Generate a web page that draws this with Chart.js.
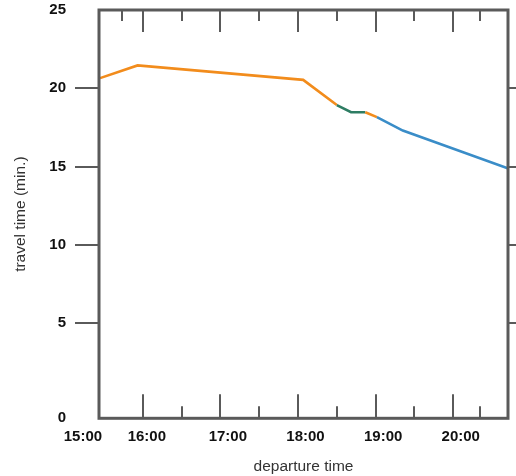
<!DOCTYPE html>
<html>
<head>
<meta charset="utf-8">
<script src="https://cdn.jsdelivr.net/npm/chart.js@4/dist/chart.umd.min.js"></script>
<style>
  html, body { margin: 0; padding: 0; background: #fff; }
  #wrap { width: 516px; height: 476px; position: relative; }
</style>
</head>
<body>
<div id="wrap"><canvas id="c"></canvas></div>
<script>
// ---- data (minutes after 15:00, travel time in minutes) ----
const departMinutes = [27, 56, 184, 210, 221, 232, 241, 261, 342];
const travelTimes   = [20.65, 21.46, 20.54, 18.93, 18.47, 18.47, 18.16, 17.30, 14.90];
// colour group of each segment (between point i and i+1)
const segmentGroups = ['a', 'a', 'a', 'b', 'b', 'a', 'c', 'c'];

// x axis
const xMin = 26.2, xMax = 342.3;
const xLabelValues = [8, 57.4, 120, 180, 240, 300];
const xLabels      = ['15:00', '16:00', '17:00', '18:00', '19:00', '20:00'];
const xMajorTicks  = [60, 120, 180, 240, 300];
const xMinorBottom = [90, 150, 210, 270, 321];
const xMinorTop    = [44, 90, 150, 210, 270, 321];

// y axis
const yMin = -1.07, yMax = 25;
const yLabelValues = [-1.07, 5, 10, 15, 20, 25];
const yLabels      = ['0', '5', '10', '15', '20', '25'];
const yTickMarks   = [5, 10, 15, 20];

const groupColors = { a: '#F28C1C', b: '#2E7D63', c: '#3A8DC8' };
const frameColor = '#5a5a5a';
const FONT = '"Liberation Sans", Arial, Helvetica, sans-serif';

const framePlugin = {
  id: 'frame',
  afterDatasetsDraw(chart) {
    const { ctx, chartArea: a, scales: { x, y } } = chart;
    ctx.save();
    ctx.strokeStyle = frameColor;
    ctx.lineCap = 'butt';
    ctx.lineWidth = 2;
    ctx.beginPath();
    xMajorTicks.forEach(v => {
      const px = Math.round(x.getPixelForValue(v));
      ctx.moveTo(px, a.bottom); ctx.lineTo(px, a.bottom - 24);
      ctx.moveTo(px, a.top); ctx.lineTo(px, a.top + 22);
    });
    xMinorBottom.forEach(v => {
      const px = Math.round(x.getPixelForValue(v));
      ctx.moveTo(px, a.bottom); ctx.lineTo(px, a.bottom - 12);
    });
    xMinorTop.forEach(v => {
      const px = Math.round(x.getPixelForValue(v));
      ctx.moveTo(px, a.top); ctx.lineTo(px, a.top + 11);
    });
    yTickMarks.forEach(v => {
      const py = Math.round(y.getPixelForValue(v));
      ctx.moveTo(a.left - 24, py); ctx.lineTo(a.left, py);
      ctx.moveTo(a.right, py); ctx.lineTo(a.right + 24, py);
    });
    ctx.stroke();
    ctx.lineWidth = 3;
    ctx.strokeRect(a.left, a.top, a.right - a.left, a.bottom - a.top);
    ctx.restore();
  }
};

new Chart(document.getElementById('c'), {
  type: 'line',
  data: {
    datasets: [{
      data: departMinutes.map((m, i) => ({ x: m, y: travelTimes[i] })),
      borderWidth: 2.6,
      pointRadius: 0,
      tension: 0,
      fill: false,
      borderColor: groupColors.a,
      segment: {
        borderColor: c => groupColors[segmentGroups[c.p0DataIndex]]
      }
    }]
  },
  options: {
    responsive: true,
    maintainAspectRatio: false,
    animation: false,
    layout: { padding: { top: 10, right: 8, left: 0, bottom: 0 } },
    plugins: { legend: { display: false }, tooltip: { enabled: false } },
    scales: {
      x: {
        type: 'linear',
        min: xMin, max: xMax,
        grid: { display: false, drawTicks: false },
        border: { display: false },
        afterBuildTicks: s => { s.ticks = xLabelValues.map(v => ({ value: v })); },
        afterFit: s => { s.height = 57.7; s.paddingLeft = 0; s.paddingRight = 0; },
        ticks: {
          autoSkip: false,
          maxRotation: 0,
          padding: 10,
          labelOffset: 7.5,
          color: '#111',
          font: { family: FONT, size: 15, weight: 'bold' },
          callback: (v, i) => xLabels[i]
        },
        title: {
          display: true,
          text: 'departure time',
          color: '#333',
          font: { family: FONT, size: 15.5 },
          padding: { top: 0, bottom: 0 }
        }
      },
      y: {
        type: 'linear',
        min: yMin, max: yMax,
        grid: { display: false, drawTicks: false },
        border: { display: false },
        afterBuildTicks: s => { s.ticks = yLabelValues.map(v => ({ value: v })); },
        afterFit: s => { s.width = 99; s.paddingTop = 0; s.paddingBottom = 0; },
        ticks: {
          autoSkip: false,
          padding: 33,
          color: '#111',
          font: { family: FONT, size: 15, weight: 'bold' },
          callback: (v, i) => yLabels[i]
        },
        title: {
          display: true,
          text: 'travel time (min.)',
          color: '#333',
          font: { family: FONT, size: 15.5 },
          padding: { top: 11.5, bottom: 0 }
        }
      }
    }
  },
  plugins: [framePlugin]
});
</script>
</body>
</html>
